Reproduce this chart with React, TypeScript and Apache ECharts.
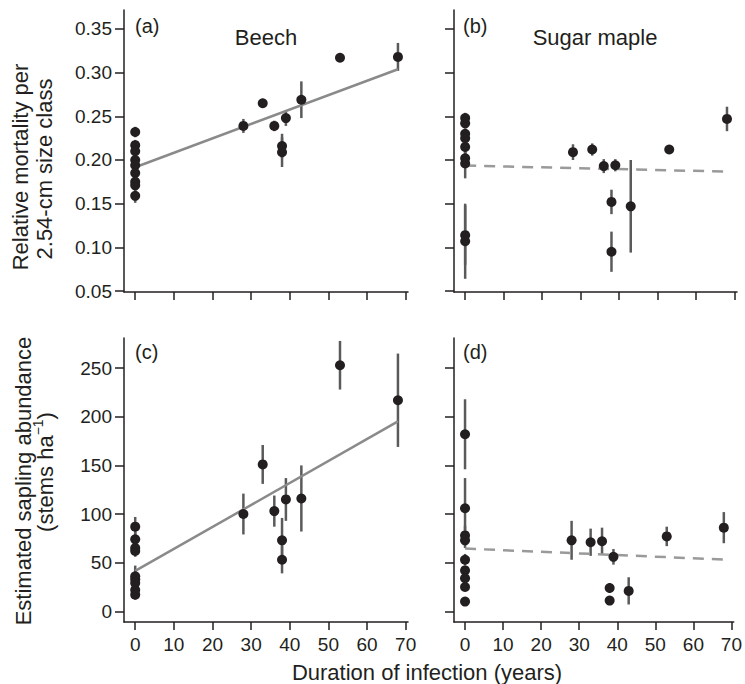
import React, { useEffect, useRef } from "react";
import * as echarts from "echarts";

// ---- tick values ----
const xTicks = [0, 10, 20, 30, 40, 50, 60, 70];
const mortTicks = [0.05, 0.1, 0.15, 0.2, 0.25, 0.3, 0.35];
const saplingTicks = [0, 50, 100, 150, 200, 250];

// ---- (a) Beech mortality ----
const beechMortX = [0, 0, 0, 0, 0, 0, 0, 0, 0, 28, 33, 36, 38, 38, 39, 43, 53, 68];
const beechMortY = [0.232, 0.217, 0.21, 0.2, 0.194, 0.185, 0.175, 0.171, 0.159, 0.239, 0.265, 0.239, 0.216, 0.209, 0.248, 0.269, 0.317, 0.318];
const beechMortErr = [0.006, 0.006, 0.005, 0.005, 0.005, 0.005, 0.006, 0.006, 0.008, 0.008, 0.005, 0.006, 0.014, 0.017, 0.009, 0.021, 0.003, 0.016];
const beechMortFit = [[0, 0.1917], [68, 0.3039]];

// ---- (b) Sugar maple mortality ----
const mapleMortX = [0, 0, 0, 0, 0, 0, 0, 0, 0, 28, 33, 36, 38, 38, 39, 43, 53, 68];
const mapleMortY = [0.248, 0.242, 0.23, 0.225, 0.215, 0.202, 0.196, 0.114, 0.107, 0.209, 0.212, 0.193, 0.152, 0.095, 0.194, 0.147, 0.212, 0.247];
const mapleMortErr = [0.006, 0.006, 0.006, 0.006, 0.008, 0.01, 0.017, 0.034, 0.043, 0.009, 0.007, 0.008, 0.014, 0.023, 0.007, 0.053, 0.003, 0.014];
const mapleMortFit = [[0, 0.1936], [68, 0.1867]];

// ---- (c) Beech sapling abundance ----
const beechSapX = [0, 0, 0, 0, 0, 0, 0, 0, 0, 28, 33, 36, 38, 38, 39, 43, 53, 68];
const beechSapY = [87, 74, 65, 62, 36, 33, 29, 22, 17, 100, 151, 103, 73, 53, 115, 116, 253, 217];
const beechSapErr = [10, 8, 6, 6, 11, 8, 6, 5, 5, 21, 20, 16, 23, 14, 22, 34, 25, 48];
const beechSapFit = [[0, 41.5], [68, 195.2]];

// ---- (d) Sugar maple sapling abundance ----
const mapleSapX = [0, 0, 0, 0, 0, 0, 0, 0, 0, 28, 33, 36, 38, 38, 39, 43, 53, 68];
const mapleSapY = [182, 106, 78, 73, 53, 42, 34, 25, 10, 73, 71, 72, 24, 11, 56, 21, 77, 86];
const mapleSapErr = [36, 31, 10, 8, 6, 5, 5, 4, 3, 20, 14, 14, 5, 0, 8, 14, 10, 16];
const mapleSapFit = [[0, 64.5], [68, 53.2]];

const FONT = "'Liberation Sans', Arial, Helvetica, sans-serif";
const INK = "#231f20";

export default function App() {
  const ref = useRef<HTMLDivElement>(null);

  useEffect(() => {
    if (!ref.current) return;
    const chart = echarts.init(ref.current, undefined, { renderer: "svg" });

    const grids = [
      { left: 124, top: 10, width: 284, height: 282 },
      { left: 454, top: 10, width: 283, height: 282 },
      { left: 124, top: 338, width: 284, height: 284 },
      { left: 454, top: 338, width: 283, height: 284 },
    ];

    const axisLine = { show: true, onZero: false, lineStyle: { color: INK, width: 1.5 } };

    const xAxes = [0, 1, 2, 3].map((i) => ({
      type: "value",
      gridIndex: i,
      min: -2.9,
      max: 70.6,
      axisLine,
      axisTick: { show: true, length: 8, customValues: xTicks, lineStyle: { color: INK, width: 1.5 } },
      axisLabel: {
        show: i >= 2,
        customValues: xTicks,
        fontSize: 19,
        color: INK,
        fontFamily: FONT,
        margin: 13,
      },
      splitLine: { show: false },
    }));

    const yAxes = [0, 1, 2, 3].map((i) => {
      const top = i < 2;
      return {
        type: "value",
        gridIndex: i,
        min: top ? 0.0489 : -11,
        max: top ? 0.3717 : 281,
        axisLine,
        axisTick: {
          show: true,
          length: 9,
          customValues: top ? mortTicks : saplingTicks,
          lineStyle: { color: INK, width: 1.5 },
        },
        axisLabel: {
          show: i % 2 === 0,
          customValues: top ? mortTicks : saplingTicks,
          formatter: (v: number) => (top ? v.toFixed(2) : String(Math.round(v))),
          fontSize: 19,
          color: INK,
          fontFamily: FONT,
          margin: 12,
        },
        splitLine: { show: false },
      };
    });

    const panels = [
      { xs: beechMortX, ys: beechMortY, es: beechMortErr, fit: beechMortFit, dashed: false },
      { xs: mapleMortX, ys: mapleMortY, es: mapleMortErr, fit: mapleMortFit, dashed: true },
      { xs: beechSapX, ys: beechSapY, es: beechSapErr, fit: beechSapFit, dashed: false },
      { xs: mapleSapX, ys: mapleSapY, es: mapleSapErr, fit: mapleSapFit, dashed: true },
    ];

    const series: any[] = [];
    panels.forEach((p, i) => {
      series.push({
        type: "custom",
        xAxisIndex: i,
        yAxisIndex: i,
        z: 2,
        data: p.xs.map((x, k) => [x, p.ys[k] - p.es[k], p.ys[k] + p.es[k]]),
        encode: { x: 0, y: [1, 2] },
        renderItem: (params: any, api: any) => {
          const x = api.value(0);
          const a = api.coord([x, api.value(1)]);
          const b = api.coord([x, api.value(2)]);
          return {
            type: "line",
            shape: { x1: a[0], y1: a[1], x2: b[0], y2: b[1] },
            style: { stroke: "#5a5a5a", lineWidth: 2.5 },
          };
        },
      });
      series.push({
        type: "line",
        xAxisIndex: i,
        yAxisIndex: i,
        z: 3,
        data: p.fit,
        showSymbol: false,
        symbol: "none",
        lineStyle: {
          color: p.dashed ? "#9a9a9a" : "#8a8a8a",
          width: 2.5,
          type: p.dashed ? [11, 8] : "solid",
        },
      });
      series.push({
        type: "scatter",
        xAxisIndex: i,
        yAxisIndex: i,
        z: 4,
        symbol: "circle",
        symbolSize: 10,
        itemStyle: { color: INK, opacity: 1 },
        data: p.xs.map((x, k) => [x, p.ys[k]]),
      });
    });

    const txt = (text: string, x: number, y: number, size: number, align: string, extra: any = {}) => ({
      type: "text",
      x,
      y,
      ...extra,
      style: {
        text,
        fill: INK,
        font: `${size}px ${FONT}`,
        textAlign: align,
        textVerticalAlign: "middle",
      },
    });

    const graphic: any[] = [
      txt("(a)", 135, 26, 20, "left"),
      txt("Beech", 266, 37, 22, "center"),
      txt("(b)", 463, 26, 20, "left"),
      txt("Sugar maple", 595, 37, 22, "center"),
      txt("(c)", 135, 352, 20, "left"),
      txt("(d)", 463, 352, 20, "left"),
      txt("Duration of infection (years)", 427, 672, 22, "center"),
      txt("Relative mortality per", 20.5, 167, 22, "center", { rotation: Math.PI / 2 }),
      txt("2.54-cm size class", 44, 169, 22, "center", { rotation: Math.PI / 2 }),
      txt("Estimated sapling abundance", 23.5, 481, 22, "center", { rotation: Math.PI / 2 }),
      {
        type: "text",
        x: 45,
        y: 472,
        rotation: Math.PI / 2,
        style: {
          text: "{n|(stems ha}{s|\u22121}{n|)}",
          fill: INK,
          textAlign: "center",
          textVerticalAlign: "middle",
          rich: {
            n: { fontSize: 22, fontFamily: FONT, fill: INK },
            s: { fontSize: 14, fontFamily: FONT, fill: INK, padding: [0, 0, 14, 0] },
          },
        },
      },
    ];

    chart.setOption({
      animation: false,
      textStyle: { fontFamily: FONT },
      grid: grids,
      xAxis: xAxes,
      yAxis: yAxes,
      series,
      graphic,
    });

    return () => chart.dispose();
  }, []);

  return (
    <div
      ref={ref}
      style={{ position: "fixed", left: 0, top: 0, width: 745, height: 684, background: "#fff" }}
    />
  );
}
